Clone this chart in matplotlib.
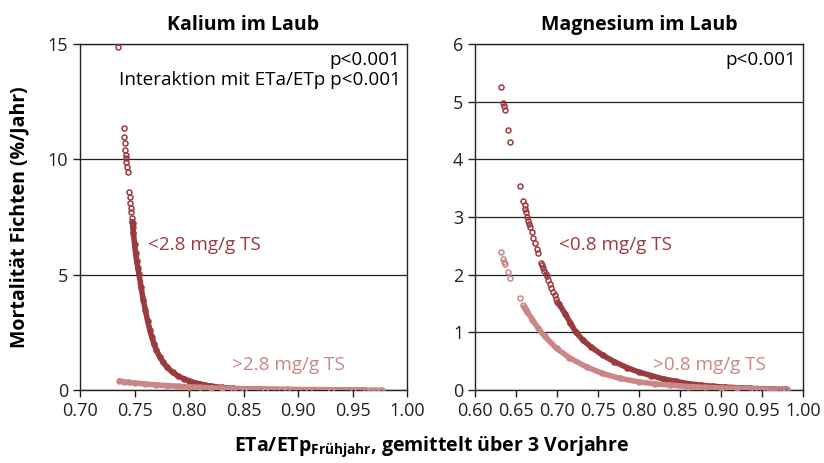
import matplotlib
matplotlib.use("Agg")
import matplotlib.pyplot as plt

plt.rcParams['font.family'] = ['Open Sans', 'DejaVu Sans']
plt.rcParams['mathtext.fontset'] = 'custom'
plt.rcParams['mathtext.rm'] = 'Open Sans'
plt.rcParams['mathtext.bf'] = 'Open Sans:bold'

DARK = '#9a3b40'
LIGHT = '#c98787'

# --- Kalium im Laub: <2.8 mg/g TS (isolated points, then dense band) ---
k_low_sparse_x = [0.735, 0.7404, 0.7407, 0.7411, 0.7415, 0.7419, 0.7422, 0.7426, 0.7432, 0.7440,
                  0.7450, 0.7455, 0.7460, 0.7466, 0.7472, 0.7477, 0.7482, 0.7487]
k_low_sparse_y = [14.87, 11.35, 10.98, 10.69, 10.40, 10.18, 10.04, 9.89, 9.68, 9.46,
                  8.59, 8.35, 8.10, 7.90, 7.73, 7.45, 7.25, 7.06]
k_low_x = [0.7480, 0.7490, 0.7500, 0.7510, 0.7520, 0.7530, 0.7540, 0.7560, 0.7580, 0.7600,
           0.7620, 0.7640, 0.7660, 0.7680, 0.7700, 0.7730, 0.7760, 0.7800, 0.7850, 0.7900,
           0.7950, 0.8000, 0.8050, 0.8100, 0.8150, 0.8200, 0.8300, 0.8400, 0.8500, 0.8650,
           0.8800, 0.9000, 0.9300, 0.9600]
k_low_y = [7.30, 6.80, 6.35, 5.95, 5.60, 5.30, 5.05, 4.45, 3.92, 3.45,
           3.00, 2.62, 2.28, 1.98, 1.74, 1.45, 1.22, 0.98, 0.77, 0.61,
           0.49, 0.40, 0.32, 0.26, 0.21, 0.17, 0.11, 0.07, 0.05, 0.03,
           0.02, 0.01, 0.005, 0.003]

# --- Kalium im Laub: >2.8 mg/g TS ---
k_high_x = [0.736, 0.740, 0.745, 0.750, 0.760, 0.770, 0.780, 0.790, 0.800, 0.810,
            0.820, 0.830, 0.840, 0.850, 0.870, 0.890, 0.910, 0.930, 0.950, 0.962]
k_high_y = [0.39, 0.36, 0.33, 0.30, 0.26, 0.22, 0.19, 0.16, 0.135, 0.11,
            0.09, 0.075, 0.06, 0.05, 0.035, 0.025, 0.018, 0.012, 0.008, 0.006]
k_high_sparse_x = [0.966, 0.969, 0.972, 0.975, 0.977]
k_high_sparse_y = [0.005, 0.005, 0.005, 0.005, 0.005]

# --- Magnesium im Laub: <0.8 mg/g TS ---
m_low_sparse_x = [0.6314, 0.6345, 0.6355, 0.6362, 0.6406, 0.6430, 0.6545, 0.6590, 0.6605, 0.6615,
                  0.6625, 0.6635, 0.6645, 0.6655, 0.6670, 0.6690, 0.6710, 0.6730, 0.6750, 0.6770,
                  0.6810, 0.6820, 0.6830, 0.6845, 0.6860, 0.6874, 0.6890, 0.6910, 0.6930, 0.6950,
                  0.6970, 0.6990, 0.7005]
m_low_sparse_y = [5.26, 4.98, 4.92, 4.86, 4.51, 4.30, 3.54, 3.28, 3.20, 3.14,
                  3.08, 3.00, 2.93, 2.87, 2.83, 2.74, 2.64, 2.55, 2.45, 2.37,
                  2.20, 2.16, 2.12, 2.06, 2.01, 1.97, 1.90, 1.83, 1.77, 1.70,
                  1.64, 1.58, 1.53]
m_low_x = [0.702, 0.710, 0.716, 0.723, 0.732, 0.742, 0.756, 0.770, 0.785, 0.800,
           0.815, 0.830, 0.845, 0.860, 0.875, 0.890, 0.905, 0.920, 0.935, 0.950,
           0.965, 0.978]
m_low_y = [1.50, 1.32, 1.17, 1.00, 0.86, 0.74, 0.60, 0.49, 0.39, 0.31,
           0.25, 0.19, 0.15, 0.11, 0.085, 0.065, 0.05, 0.04, 0.03, 0.022,
           0.016, 0.012]

# --- Magnesium im Laub: >0.8 mg/g TS ---
m_high_sparse_x = [0.6314, 0.6345, 0.6355, 0.6360, 0.6406, 0.6430, 0.6545, 0.6590, 0.6600, 0.6610,
                   0.6625, 0.958, 0.962, 0.966, 0.970, 0.974, 0.978, 0.981]
m_high_sparse_y = [2.40, 2.28, 2.22, 2.19, 2.05, 1.95, 1.60, 1.47, 1.44, 1.42,
                   1.39, 0.012, 0.012, 0.012, 0.012, 0.012, 0.012, 0.012]
m_high_x = [0.664, 0.670, 0.677, 0.685, 0.6996, 0.715, 0.736, 0.755, 0.777, 0.800,
            0.820, 0.838, 0.860, 0.880, 0.900, 0.920, 0.940, 0.955]
m_high_y = [1.35, 1.22, 1.07, 0.93, 0.72, 0.56, 0.40, 0.29, 0.20, 0.14,
            0.105, 0.085, 0.06, 0.045, 0.035, 0.027, 0.02, 0.016]

k_xticks = [0.70, 0.75, 0.80, 0.85, 0.90, 0.95, 1.00]
k_yticks = [0, 5, 10, 15]
m_xticks = [0.60, 0.65, 0.70, 0.75, 0.80, 0.85, 0.90, 0.95, 1.00]
m_yticks = [0, 1, 2, 3, 4, 5, 6]


def draw_series(ax, sx, sy, dx, dy, color):
    # dense part: overlapping points drawn as a thick band plus the markers
    ax.plot(dx, dy, '-', color=color, lw=4.0, solid_capstyle='round', zorder=3)
    ax.plot(dx, dy, 'o', mfc='none', mec=color, ms=3.6, mew=1.1, zorder=3)
    ax.plot(sx, sy, 'o', mfc='none', mec=color, ms=3.6, mew=1.1, zorder=3)


def style_axes(ax, xticks, yticks, xfmt):
    ax.set_xlim(xticks[0], xticks[-1])
    ax.set_ylim(yticks[0], yticks[-1])
    ax.set_xticks(xticks)
    ax.set_xticklabels([xfmt % t for t in xticks])
    ax.set_yticks(yticks)
    ax.tick_params(direction='out', length=5, width=1.0, labelsize=13, colors='#222222')
    ax.grid(axis='y', color='#222222', lw=0.9)
    ax.set_axisbelow(True)
    for s in ax.spines.values():
        s.set_linewidth(1.0)
        s.set_color('#222222')


fig = plt.figure(figsize=(8.24, 4.63), dpi=100)
ax1 = fig.add_axes([80 / 824, 73 / 463, 327 / 824, 346 / 463])
ax2 = fig.add_axes([475 / 824, 73 / 463, 328 / 824, 346 / 463])

draw_series(ax1, k_low_sparse_x, k_low_sparse_y, k_low_x, k_low_y, DARK)
draw_series(ax1, k_high_sparse_x, k_high_sparse_y, k_high_x, k_high_y, LIGHT)
style_axes(ax1, k_xticks, k_yticks, '%.2f')
ax1.set_title('Kalium im Laub', fontsize=14, fontweight='bold', pad=10)
ax1.text(0.98, 0.955, 'p<0.001', transform=ax1.transAxes, ha='right', va='center', fontsize=13.6)
ax1.text(0.98, 0.895, 'Interaktion mit ETa/ETp p<0.001', transform=ax1.transAxes,
         ha='right', va='center', fontsize=13.6)
ax1.text(0.7624, 6.3, '<2.8 mg/g TS', color=DARK, fontsize=13.6, va='center')
ax1.text(0.8394, 1.1, '>2.8 mg/g TS', color=LIGHT, fontsize=13.6, va='center')

draw_series(ax2, m_low_sparse_x, m_low_sparse_y, m_low_x, m_low_y, DARK)
draw_series(ax2, m_high_sparse_x, m_high_sparse_y, m_high_x, m_high_y, LIGHT)
style_axes(ax2, m_xticks, m_yticks, '%.2f')
ax2.set_title('Magnesium im Laub', fontsize=14, fontweight='bold', pad=10)
ax2.text(0.98, 0.955, 'p<0.001', transform=ax2.transAxes, ha='right', va='center', fontsize=13.6)
ax2.text(0.7024, 2.52, '<0.8 mg/g TS', color=DARK, fontsize=13.6, va='center')
ax2.text(0.817, 0.44, '>0.8 mg/g TS', color=LIGHT, fontsize=13.6, va='center')

fig.text(0.024, 0.53, 'Mortalität Fichten (%/Jahr)', rotation=90, ha='center', va='center',
         fontsize=14, fontweight='bold')
fig.text(0.524, 0.035, r'ETa/ETp$_{\mathbf{Frühjahr}}$, gemittelt über 3 Vorjahre',
         ha='center', va='center', fontsize=14, fontweight='bold')

fig.savefig('out.png', dpi=100)
